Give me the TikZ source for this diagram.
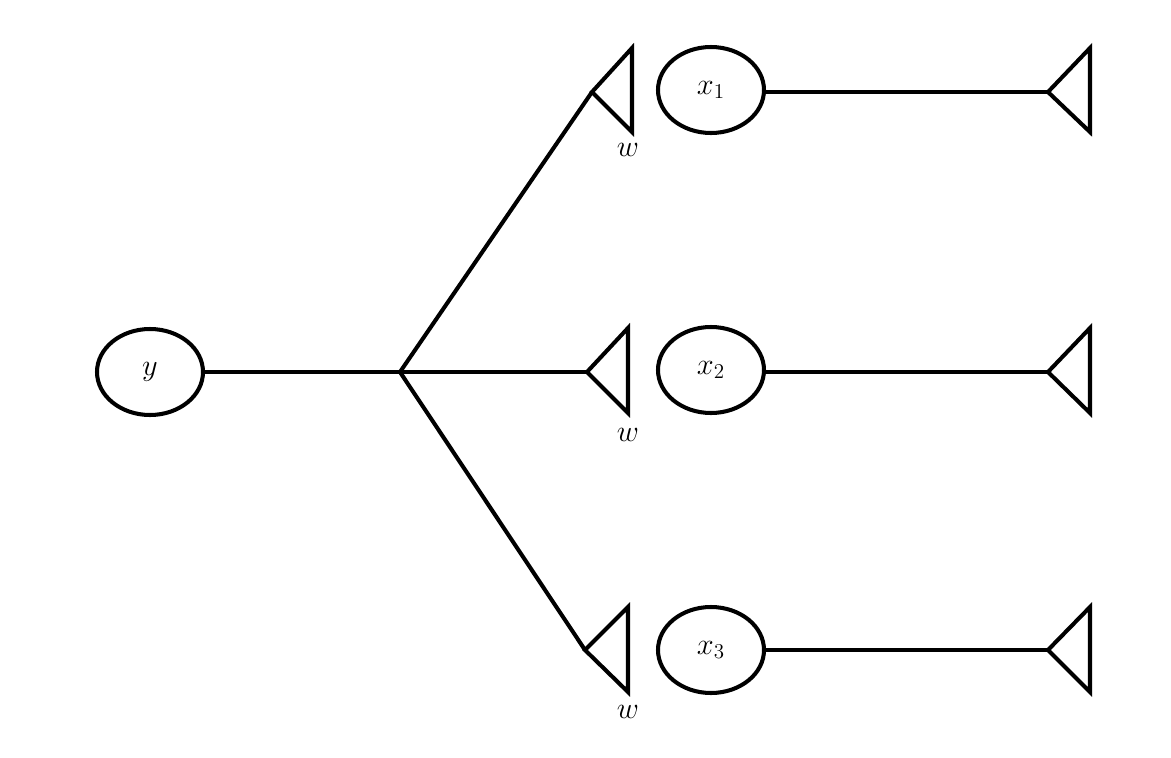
\documentclass[tikz,border=0pt]{standalone}
\usepackage{amsmath}
\usetikzlibrary{shapes.geometric,positioning}

\begin{document}
\begin{tikzpicture}[x=0.02cm,y=-0.02cm,line width=2.3pt,
	var/.style={ellipse,draw,minimum width=106*0.02cm,minimum height=86*0.02cm,inner sep=0pt,font=\LARGE},
	wlabel/.style={font=\LARGE}]
		\useasboundingbox (0,0) rectangle (1171,758);
		\draw (150,372) node [var] (y) {$y$};
		\coordinate (j) at (400,372);
		\draw (711,90) node [var] (x1) {$x_1$};
		\draw (711,370) node [var] (x2) {$x_2$};
		\draw (711,650) node [var] (x3) {$x_3$};

		% antennas beside the weights
		\coordinate (a1) at (592,92);
		\coordinate (a2) at (587,372);
		\coordinate (a3) at (585,650);
		\draw (a1) -- (632,48) -- (632,132) -- cycle;
		\draw (a2) -- (628,328) -- (628,413) -- cycle;
		\draw (a3) -- (628,607) -- (628,692) -- cycle;
		\node [wlabel] (w1) at (628,150) {$w$};
		\node [wlabel] (w2) at (628,435) {$w$};
		\node [wlabel] (w3) at (628,712) {$w$};

		% antennas on the right
		\coordinate (b1) at (1048,92);
		\coordinate (b2) at (1048,372);
		\coordinate (b3) at (1048,650);
		\draw (b1) -- (1090,48) -- (1090,132) -- cycle;
		\draw (b2) -- (1090,328) -- (1090,413) -- cycle;
		\draw (b3) -- (1090,607) -- (1090,692) -- cycle;

		\draw (y) -- (j);
		\draw (j) -- (a1);
		\draw (j) -- (a2);
		\draw (j) -- (a3);
		\draw (x1.east |- b1) -- (b1);
		\draw (x2.east |- b2) -- (b2);
		\draw (x3.east) -- (b3);
\end{tikzpicture}
\end{document}
